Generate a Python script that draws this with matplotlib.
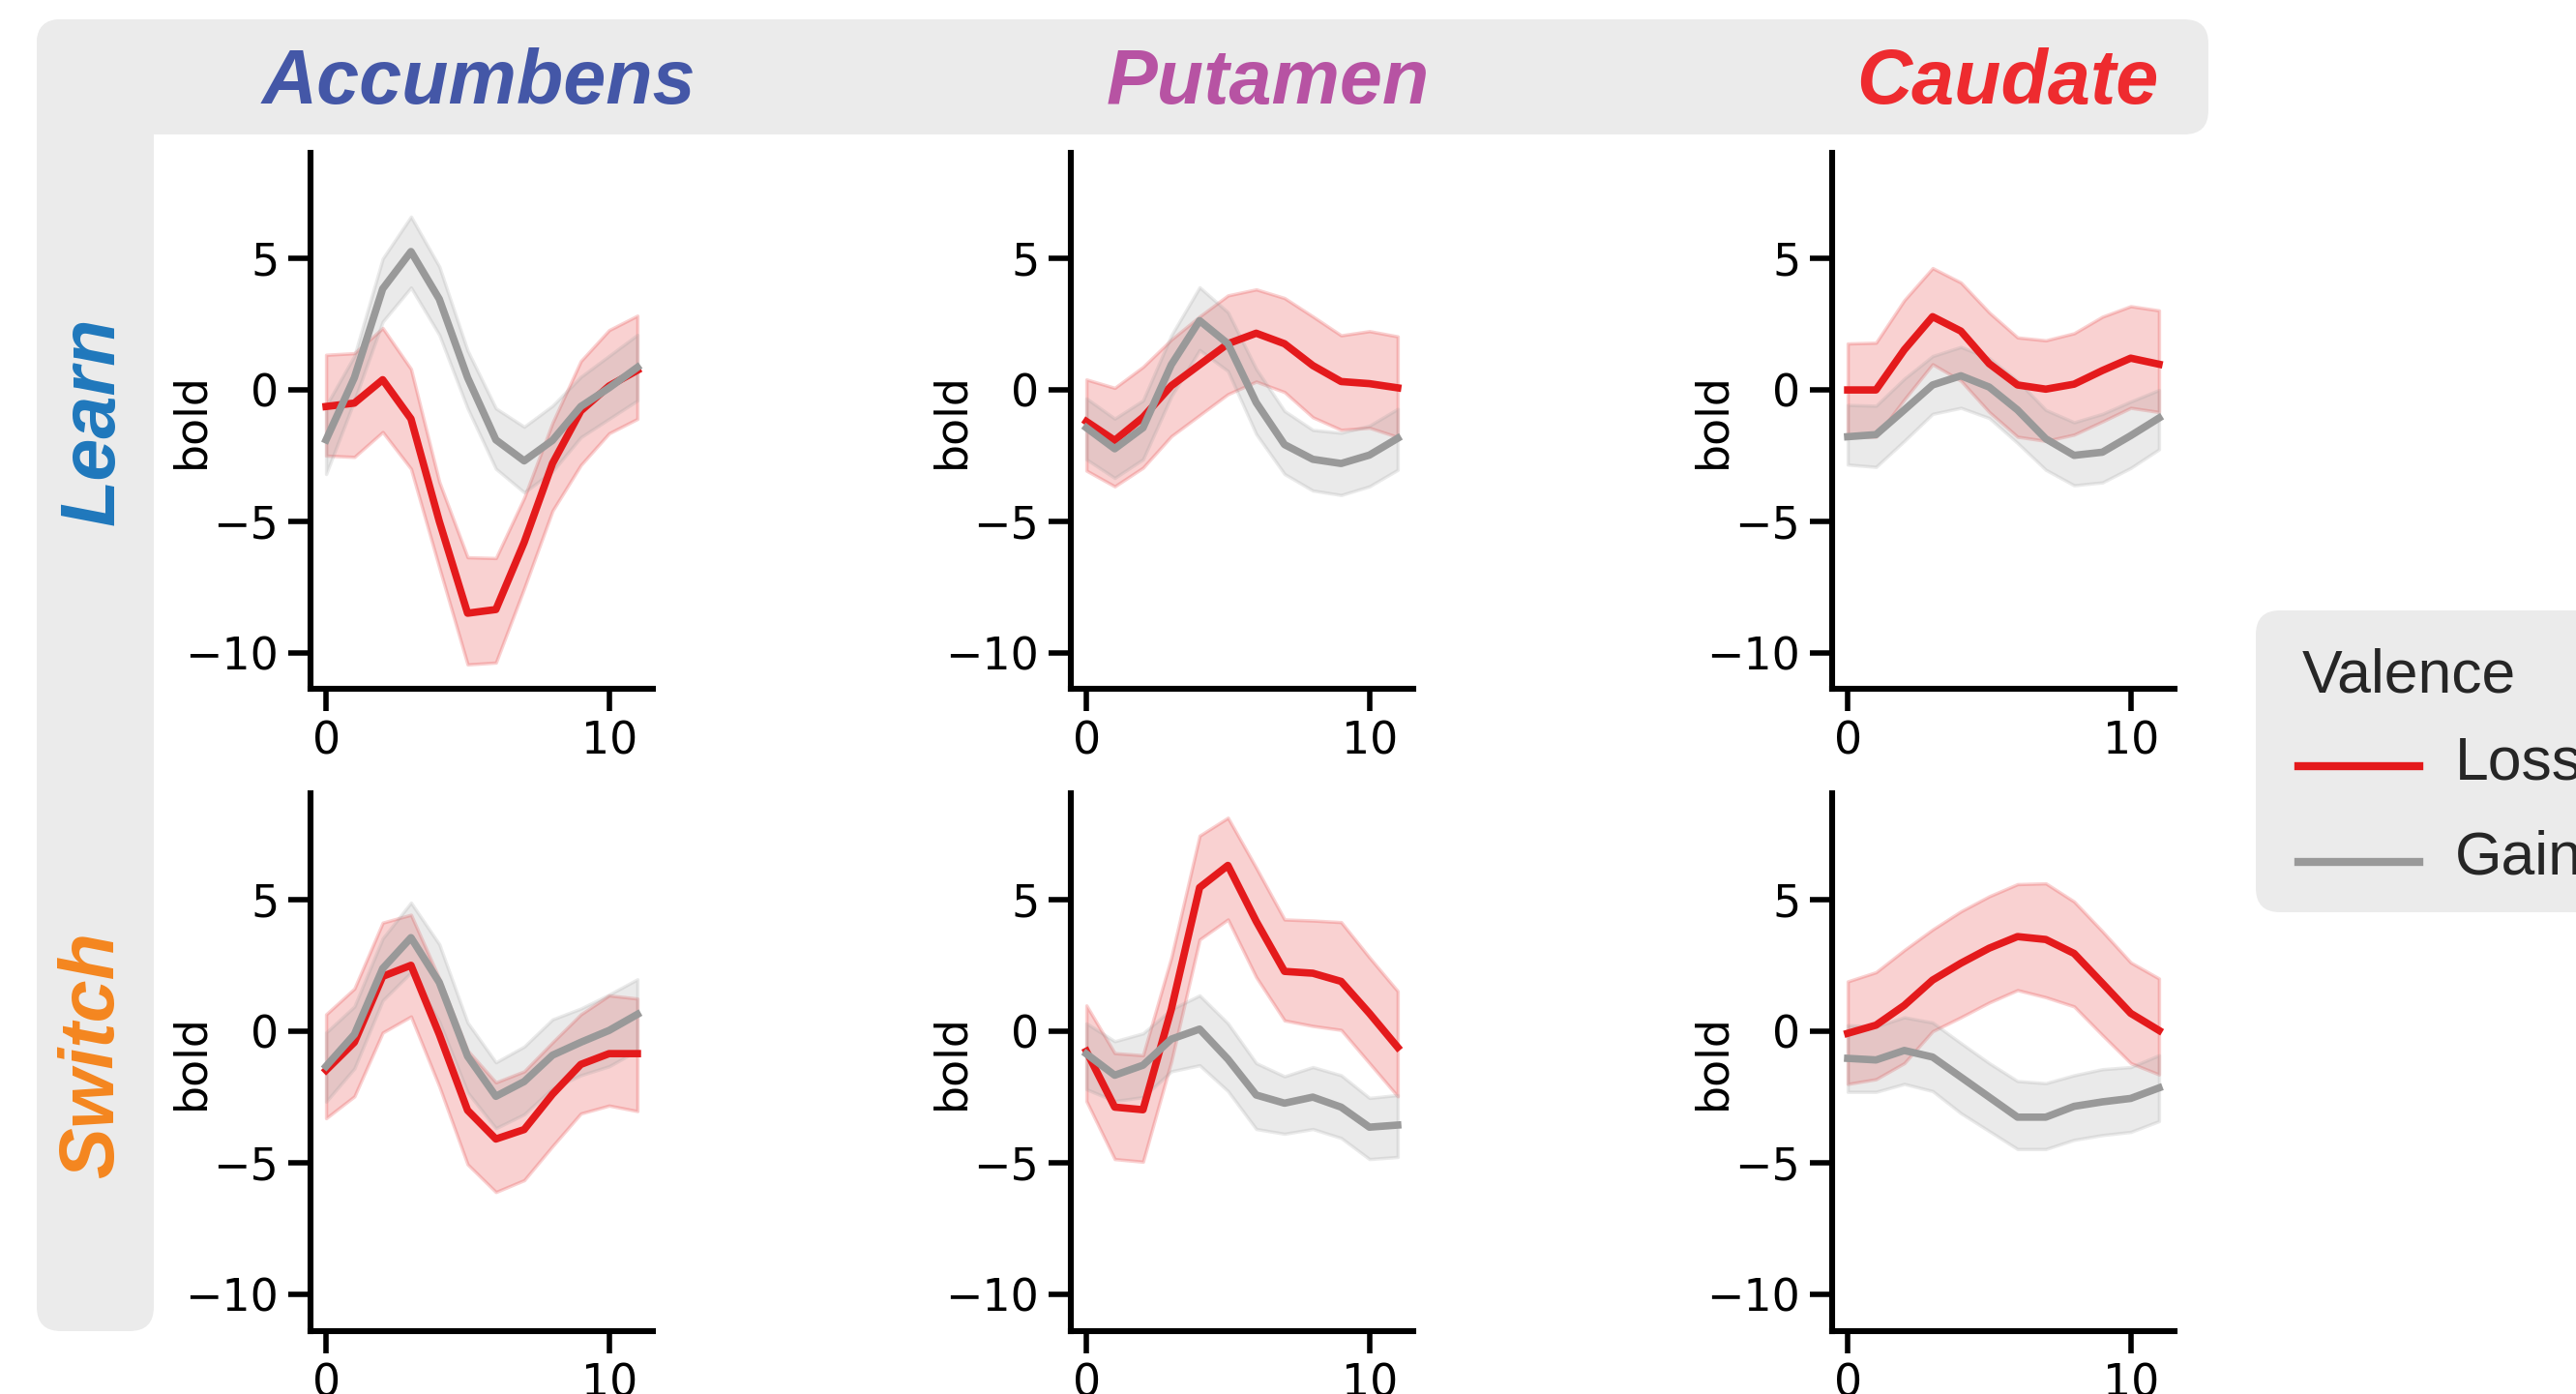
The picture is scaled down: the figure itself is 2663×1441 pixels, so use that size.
import matplotlib.pyplot as plt
from matplotlib.patches import FancyBboxPatch
from matplotlib.lines import Line2D
import numpy as np

# time points (TR after event)
time = np.arange(12)

regions = ['Accumbens', 'Putamen', 'Caudate']
region_colors = ['#4457A7', '#B753A3', '#EE2B2F']
phases = ['Learn', 'Switch']
phase_colors = ['#1F78BC', '#F5861F']
valences = ['Loss', 'Gain']
valence_colors = ['#E41A1C', '#999999']

# ---- Learn ----
acc_learn_loss = [-0.63, -0.5, 0.39, -1.1, -5.0, -8.5, -8.36, -5.8, -2.8, -0.8, 0.15, 0.75]
acc_learn_loss_hi = [1.34, 1.4, 2.36, 0.8, -3.5, -6.37, -6.4, -4.1, -1.25, 1.1, 2.28, 2.83]
acc_learn_loss_lo = [-2.5, -2.55, -1.6, -3.0, -6.76, -10.45, -10.38, -7.55, -4.6, -2.86, -1.65, -1.1]
acc_learn_gain = [-1.9, 0.47, 3.85, 5.27, 3.46, 0.47, -1.9, -2.7, -1.92, -0.63, 0.08, 0.86]
acc_learn_gain_hi = [-0.6, 1.3, 5.0, 6.6, 4.7, 1.5, -0.7, -1.4, -0.6, 0.5, 1.3, 2.1]
acc_learn_gain_lo = [-3.2, -0.4, 2.6, 3.9, 2.1, -0.7, -3.0, -3.9, -3.1, -1.8, -1.1, -0.4]

put_learn_loss = [-1.2, -1.92, -1.04, 0.16, 0.96, 1.76, 2.16, 1.76, 0.93, 0.32, 0.24, 0.08]
put_learn_loss_hi = [0.4, 0.08, 0.88, 1.92, 2.8, 3.6, 3.83, 3.5, 2.8, 2.08, 2.24, 2.04]
put_learn_loss_lo = [-3.07, -3.67, -2.96, -1.76, -0.96, -0.16, 0.32, -0.08, -1.04, -1.52, -1.44, -1.79]
put_learn_gain = [-1.44, -2.24, -1.44, 0.96, 2.64, 1.76, -0.48, -2.08, -2.64, -2.8, -2.48, -1.84]
put_learn_gain_hi = [-0.32, -1.09, -0.4, 2.08, 3.91, 2.96, 0.8, -0.8, -1.52, -1.63, -1.36, -0.72]
put_learn_gain_lo = [-2.64, -3.35, -2.64, -0.24, 1.52, 0.72, -1.68, -3.2, -3.83, -4.0, -3.67, -3.04]

cau_learn_loss = [0.0, 0.0, 1.53, 2.79, 2.24, 1.0, 0.19, 0.03, 0.22, 0.74, 1.21, 0.98]
cau_learn_loss_hi = [1.77, 1.8, 3.42, 4.64, 4.09, 2.95, 2.0, 1.89, 2.16, 2.79, 3.19, 3.03]
cau_learn_loss_lo = [-1.78, -1.78, -0.36, 0.98, 0.35, -0.84, -1.78, -1.94, -1.7, -1.2, -0.68, -0.84]
cau_learn_gain = [-1.78, -1.7, -0.76, 0.19, 0.54, 0.11, -0.76, -1.86, -2.49, -2.37, -1.74, -1.07]
cau_learn_gain_hi = [-0.57, -0.6, 0.43, 1.29, 1.64, 1.21, 0.35, -0.76, -1.23, -0.91, -0.44, 0.0]
cau_learn_gain_lo = [-2.84, -2.93, -1.94, -0.91, -0.68, -1.07, -2.02, -3.04, -3.63, -3.52, -2.97, -2.26]

# ---- Switch ----
acc_switch_loss = [-1.48, -0.42, 2.08, 2.5, -0.12, -3.0, -4.09, -3.73, -2.39, -1.26, -0.85, -0.85]
acc_switch_loss_hi = [0.64, 1.62, 4.12, 4.42, 2.0, -0.73, -1.94, -1.52, -0.42, 0.64, 1.36, 1.24]
acc_switch_loss_lo = [-3.3, -2.47, -0.05, 0.56, -2.09, -5.05, -6.1, -5.65, -4.36, -3.12, -2.82, -3.03]
acc_switch_gain = [-1.33, -0.12, 2.38, 3.55, 1.85, -0.95, -2.47, -1.91, -0.91, -0.42, 0.03, 0.64]
acc_switch_gain_hi = [-0.05, 0.94, 3.52, 4.88, 3.3, 0.33, -1.18, -0.58, 0.45, 0.86, 1.39, 1.97]
acc_switch_gain_lo = [-2.67, -1.41, 1.17, 2.23, 0.36, -2.32, -3.68, -3.15, -2.17, -1.67, -1.33, -0.73]

put_switch_loss = [-0.76, -2.88, -2.98, 0.83, 5.45, 6.29, 4.17, 2.27, 2.2, 1.89, 0.68, -0.61]
put_switch_loss_hi = [0.98, -0.83, -0.91, 2.8, 7.42, 8.1, 6.2, 4.24, 4.2, 4.14, 2.8, 1.52]
put_switch_loss_lo = [-2.65, -4.85, -4.95, -1.14, 3.48, 4.24, 2.05, 0.41, 0.2, 0.05, -1.21, -2.47]
put_switch_gain = [-0.86, -1.67, -1.29, -0.3, 0.08, -1.06, -2.42, -2.73, -2.5, -2.88, -3.64, -3.56]
put_switch_gain_hi = [0.3, -0.38, -0.08, 0.83, 1.36, 0.3, -1.21, -1.71, -1.36, -1.67, -2.53, -2.42]
put_switch_gain_lo = [-2.2, -2.65, -2.5, -1.52, -1.29, -2.27, -3.71, -3.89, -3.71, -4.05, -4.85, -4.77]

cau_switch_loss = [-0.08, 0.23, 0.98, 1.94, 2.58, 3.15, 3.59, 3.48, 2.95, 1.82, 0.68, 0.03]
cau_switch_loss_hi = [1.89, 2.24, 3.08, 3.86, 4.55, 5.12, 5.58, 5.61, 4.92, 3.79, 2.61, 2.0]
cau_switch_loss_lo = [-2.0, -1.82, -1.21, 0.0, 0.53, 1.09, 1.56, 1.29, 0.94, -0.15, -1.21, -1.64]
cau_switch_gain = [-1.03, -1.09, -0.73, -0.98, -1.74, -2.5, -3.26, -3.26, -2.85, -2.68, -2.55, -2.15]
cau_switch_gain_hi = [0.23, 0.18, 0.53, 0.33, -0.45, -1.21, -1.89, -1.97, -1.67, -1.44, -1.36, -0.91]
cau_switch_gain_lo = [-2.3, -2.3, -2.0, -2.27, -3.11, -3.79, -4.47, -4.47, -4.12, -3.94, -3.82, -3.41]

panels = {
    ('Learn', 'Accumbens'): [(acc_learn_loss, acc_learn_loss_lo, acc_learn_loss_hi),
                             (acc_learn_gain, acc_learn_gain_lo, acc_learn_gain_hi)],
    ('Learn', 'Putamen'): [(put_learn_loss, put_learn_loss_lo, put_learn_loss_hi),
                           (put_learn_gain, put_learn_gain_lo, put_learn_gain_hi)],
    ('Learn', 'Caudate'): [(cau_learn_loss, cau_learn_loss_lo, cau_learn_loss_hi),
                           (cau_learn_gain, cau_learn_gain_lo, cau_learn_gain_hi)],
    ('Switch', 'Accumbens'): [(acc_switch_loss, acc_switch_loss_lo, acc_switch_loss_hi),
                              (acc_switch_gain, acc_switch_gain_lo, acc_switch_gain_hi)],
    ('Switch', 'Putamen'): [(put_switch_loss, put_switch_loss_lo, put_switch_loss_hi),
                            (put_switch_gain, put_switch_gain_lo, put_switch_gain_hi)],
    ('Switch', 'Caudate'): [(cau_switch_loss, cau_switch_loss_lo, cau_switch_loss_hi),
                            (cau_switch_gain, cau_switch_gain_lo, cau_switch_gain_hi)],
}

W, H = 2663, 1441
fig = plt.figure(figsize=(W / 100, H / 100), dpi=100)
inch = fig.dpi_scale_trans


def px(x, y):
    # pixel position (from top-left) -> inches from bottom-left
    return x / 100, (H - y) / 100


strip_gray = '#EBEBEB'
# facet strips (top and left), rounded
x0, y0 = px(38, 139)
fig.add_artist(FancyBboxPatch((x0, y0), (2283 - 38) / 100, (139 - 20) / 100,
                              boxstyle='round,pad=0,rounding_size=0.25',
                              transform=inch, fc=strip_gray, ec='none', zorder=0))
x0, y0 = px(38, 1376)
fig.add_artist(FancyBboxPatch((x0, y0), (159 - 38) / 100, (1376 - 20) / 100,
                              boxstyle='round,pad=0,rounding_size=0.25',
                              transform=inch, fc=strip_gray, ec='none', zorder=0))

strip_font = dict(family='Liberation Sans', weight='bold', style='italic', fontsize=57)
title_x = [495, 1311, 2075]
for name, col, tx in zip(regions, region_colors, title_x):
    fig.text(*px(tx, 86), name, color=col, ha='center', va='center', transform=inch, **strip_font)
phase_y = [435, 1090]
for name, col, ty in zip(phases, phase_colors, phase_y):
    fig.text(*px(97, ty), name, color=col, ha='center', va='center', rotation=90,
             transform=inch, **strip_font)

col_left = [321, 1107, 1894]
row_top = [158, 820]
row_bottom = [712, 1376]
ax_w = 354

axes = {}
first = None
for i, phase in enumerate(phases):
    for j, region in enumerate(regions):
        l = col_left[j]
        rect = [l / W, 1 - row_bottom[i] / H, ax_w / W, (row_bottom[i] - row_top[i]) / H]
        ax = fig.add_axes(rect, sharey=first)
        if first is None:
            first = ax
        axes[(phase, region)] = ax
        for (mean, lo, hi), c, lab in zip(panels[(phase, region)], valence_colors, valences):
            ax.fill_between(time, lo, hi, color=c, alpha=0.2, linewidth=2.5)
            ax.plot(time, mean, color=c, lw=5.5, label=lab)
        ax.set_xticks([0, 10])
        ax.set_yticks([-10, -5, 0, 5])
        for s in ['top', 'right']:
            ax.spines[s].set_visible(False)
        for s in ['left', 'bottom']:
            ax.spines[s].set_linewidth(4.4)
        ax.tick_params(length=16.5, width=4, labelsize=33, pad=7)
        ax.set_ylabel('bold', fontsize=33)
        ax.yaxis.set_label_coords(-0.283, 0.5)

# legend (partially outside the canvas, as in the source)
lx, ly = px(2332, 943)
fig.add_artist(FancyBboxPatch((lx, ly), 6.0, (943 - 631) / 100,
                              boxstyle='round,pad=0,rounding_size=0.25',
                              transform=inch, fc=strip_gray, ec='none', zorder=0))
leg_font = dict(family='Liberation Sans', fontsize=45, color='#262626')
fig.text(*px(2380, 715), 'Valence', ha='left', va='baseline', transform=inch, **leg_font)
handles = axes[('Learn', 'Accumbens')].get_lines()
for h, yline, ytext in zip(handles, [792, 891], [805, 903]):
    xa, ya = px(2376, yline)
    xb, _ = px(2501, yline)
    fig.add_artist(Line2D([xa, xb], [ya, ya], color=h.get_color(), lw=6, transform=inch))
    fig.text(*px(2538, ytext), h.get_label(), ha='left', va='baseline', transform=inch, **leg_font)

fig.savefig('out.png', dpi=100)
